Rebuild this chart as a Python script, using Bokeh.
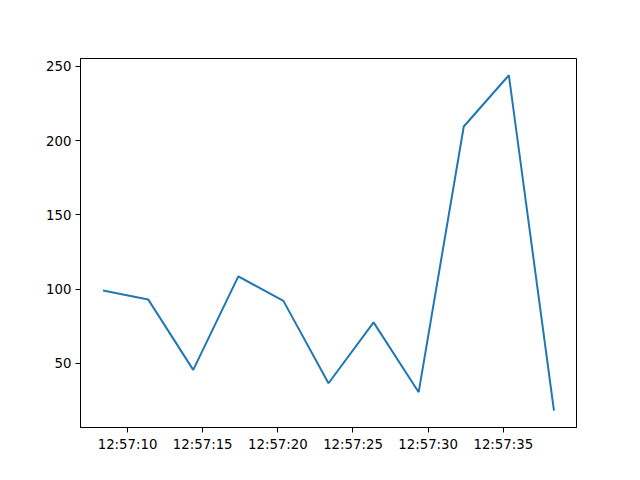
from datetime import datetime, timedelta
from bokeh.plotting import figure
from bokeh.models import Range1d, FixedTicker, DatetimeTickFormatter
from bokeh.embed import file_html
from bokeh.resources import INLINE

# ---- data ----
base = datetime(2024, 1, 1, 12, 57, 0)
offsets_s = [8.37, 11.37, 14.37, 17.37, 20.37, 23.37, 26.37, 29.37, 32.37, 35.37, 38.37]
values = [99, 93, 45.5, 108.5, 92, 36.5, 77.5, 30.5, 209.5, 244, 18]
tick_seconds = [10, 15, 20, 25, 30, 35]
y_ticks = [50, 100, 150, 200, 250]

times = [base + timedelta(seconds=s) for s in offsets_s]
epoch = datetime(1970, 1, 1)
def to_ms(dt):
    return (dt - epoch).total_seconds() * 1000.0

xs_ms = [to_ms(t) for t in times]
tick_ms = [to_ms(base + timedelta(seconds=s)) for s in tick_seconds]

# matplotlib-like 5% margins
xmin, xmax = min(xs_ms), max(xs_ms)
xpad = (xmax - xmin) * 0.05
ymin, ymax = min(values), max(values)
ypad = (ymax - ymin) * 0.05

p = figure(width=624, height=464, x_axis_type="datetime",
           output_backend="svg", toolbar_location=None,
           x_range=Range1d(xmin - xpad, xmax + xpad),
           y_range=Range1d(ymin - ypad, ymax + ypad),
           min_border_left=80, min_border_right=48,
           min_border_top=58, min_border_bottom=37)

p.line(times, values, line_color="#1f77b4", line_width=2)

p.xgrid.visible = False
p.ygrid.visible = False
p.outline_line_color = "black"
p.outline_line_width = 1
p.background_fill_color = "white"
p.border_fill_color = "white"

fmt = "%H:%M:%S"
p.xaxis.ticker = FixedTicker(ticks=tick_ms)
p.xaxis.formatter = DatetimeTickFormatter(
    microseconds=fmt, milliseconds=fmt, seconds=fmt, minsec=fmt,
    minutes=fmt, hourmin=fmt, hours=fmt, days=fmt, months=fmt, years=fmt)
p.yaxis.ticker = FixedTicker(ticks=y_ticks)

for ax in (p.xaxis, p.yaxis):
    ax.major_label_text_font = "DejaVu Sans"
    ax.major_label_text_font_size = "13.3px"
    ax.major_label_text_color = "black"
    ax.major_tick_out = 5
    ax.major_tick_in = 0
    ax.minor_tick_out = 0
    ax.minor_tick_in = 0
    ax.axis_line_color = "black"
    ax.major_tick_line_color = "black"
    ax.major_label_standoff = 4

open("out.html", "w").write(file_html(p, INLINE))
